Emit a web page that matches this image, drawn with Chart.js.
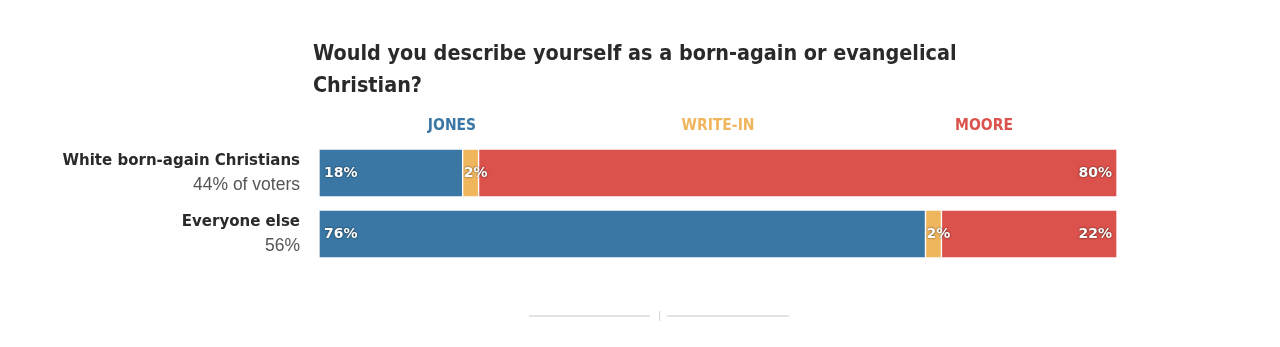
<!DOCTYPE html>
<html>
<head>
<meta charset="utf-8">
<script src="https://cdn.jsdelivr.net/npm/chart.js@4"></script>
<style>
  html, body { margin: 0; padding: 0; background: #fff; }
  #wrap { position: relative; width: 1280px; height: 347px; }
  .rule { position: absolute; top: 315px; height: 2px; background: #e4e4e4; }
  .tick { position: absolute; left: 659px; top: 311px; width: 1px; height: 10px; background: #d6d6d6; }
</style>
</head>
<body>
<div id="wrap">
  <canvas id="chart" width="1280" height="347"></canvas>
  <div class="rule" style="left:529px;width:121px"></div>
  <div class="tick"></div>
  <div class="rule" style="left:667px;width:122px"></div>
</div>
<script>
// 데이터
const titleLines = ['Would you describe yourself as a born-again or evangelical', 'Christian?'];
const groups = ['White born-again Christians', 'Everyone else'];
const groupShares = ['44% of voters', '56%'];
const seriesNames = ['JONES', 'WRITE-IN', 'MOORE'];
const jonesValues = [18, 76];
const writeInValues = [2, 2];
const mooreValues = [80, 22];
const seriesColors = ['#3a77a4', '#f0b65e', '#da524b'];

const condensed = '"DejaVu Sans Condensed", "DejaVu Sans", sans-serif';

const annotations = {
    id: 'annotations',
    afterDatasetsDraw(chart) {
        const ctx = chart.ctx;
        const area = chart.chartArea;
        const yScale = chart.scales.y;
        ctx.save();

        // 제목
        ctx.fillStyle = '#2a2a2a';
        ctx.font = 'bold 21.4px ' + condensed;
        ctx.textAlign = 'left';
        ctx.textBaseline = 'alphabetic';
        ctx.fillText(titleLines[0], 313, 60);
        ctx.fillText(titleLines[1], 313, 92);

        // 범례 - 3등분 중앙
        ctx.font = 'bold 15.5px ' + condensed;
        ctx.textAlign = 'center';
        ctx.textBaseline = 'middle';
        const w = area.right - area.left;
        seriesNames.forEach((name, i) => {
            ctx.fillStyle = seriesColors[i];
            ctx.fillText(name, area.left + w * (i * 2 + 1) / 6, 126);
        });

        // 그룹 라벨
        ctx.textAlign = 'right';
        groups.forEach((g, i) => {
            const cy = yScale.getPixelForValue(i);
            ctx.fillStyle = '#2a2a2a';
            ctx.font = 'bold 15px "DejaVu Sans", sans-serif';
            ctx.fillText(g, 300, cy - 12);
            ctx.fillStyle = '#555';
            ctx.font = '17.5px "Liberation Sans", sans-serif';
            ctx.fillText(groupShares[i], 300, cy + 12);
        });

        // 값 라벨
        ctx.font = 'bold 14px "DejaVu Sans", sans-serif';
        ctx.fillStyle = '#fff';
        ctx.shadowColor = 'rgba(0,0,0,0.75)';
        ctx.shadowBlur = 2;
        chart.data.datasets.forEach((ds, di) => {
            chart.getDatasetMeta(di).data.forEach((bar, i) => {
                const label = ds.data[i] + '%';
                const start = Math.min(bar.base, bar.x);
                const end = Math.max(bar.base, bar.x);
                if (di === 2) {
                    ctx.textAlign = 'right';
                    ctx.fillText(label, end - 5, bar.y);
                } else if (di === 0) {
                    ctx.textAlign = 'left';
                    ctx.fillText(label, start + 5, bar.y);
                } else {
                    ctx.textAlign = 'left';
                    ctx.fillText(label, start + 1, bar.y);
                }
            });
        });
        ctx.restore();
    }
};

new Chart(document.getElementById('chart').getContext('2d'), {
    type: 'bar',
    data: {
        labels: groups,
        datasets: [
            { label: seriesNames[0], data: jonesValues, backgroundColor: seriesColors[0] },
            { label: seriesNames[1], data: writeInValues, backgroundColor: seriesColors[1] },
            { label: seriesNames[2], data: mooreValues, backgroundColor: seriesColors[2] }
        ].map(d => Object.assign(d, {
            barThickness: 48,
            borderWidth: 1,
            borderColor: 'rgba(255,255,255,0.35)',
            borderSkipped: false
        }))
    },
    options: {
        indexAxis: 'y',
        responsive: false,
        animation: false,
        layout: {
            padding: { left: 319, right: 163, top: 142.5, bottom: 82.5 }
        },
        plugins: {
            legend: { display: false },
            tooltip: { enabled: false }
        },
        scales: {
            x: { stacked: true, min: 0, max: 100, display: false },
            y: { stacked: true, display: false }
        }
    },
    plugins: [annotations]
});
</script>
</body>
</html>
